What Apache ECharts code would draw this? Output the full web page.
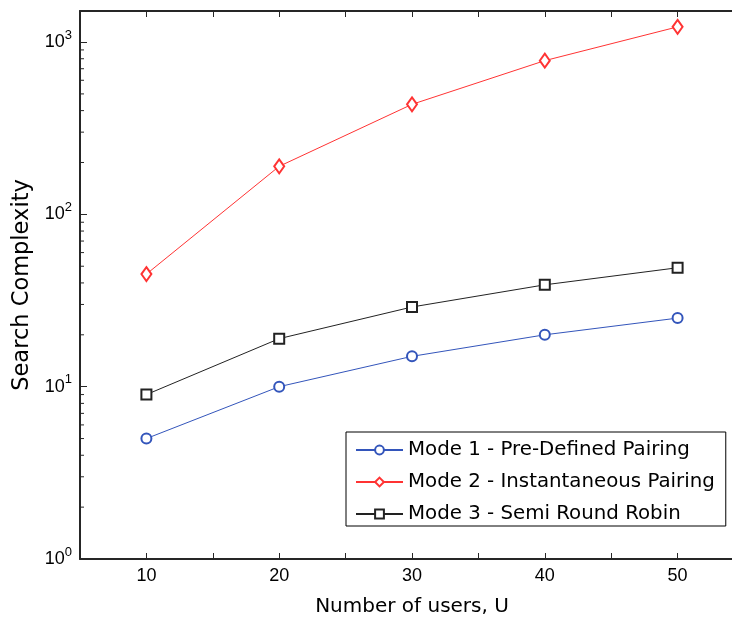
<!DOCTYPE html>
<html>
<head>
<meta charset="utf-8">
<script src="https://cdn.jsdelivr.net/npm/echarts@6/dist/echarts.min.js"></script>
<style>
  html, body { margin: 0; padding: 0; background: #fff; overflow: hidden; }
  #frame { width: 732px; height: 619px; overflow: hidden; position: relative; }
  #chart { width: 770px; height: 619px; }
</style>
</head>
<body>
<div id="frame"><div id="chart"></div></div>
<script>
// Number of users on the x axis
const users = [10, 20, 30, 40, 50];

// Search complexity for each pairing mode
const mode1 = [5, 10, 15, 20, 25];
const mode2 = [45, 190, 435, 780, 1225];
const mode3 = [9, 19, 29, 39, 49];

const seriesNames = [
  'Mode 1 - Pre-Defined Pairing',
  'Mode 2 - Instantaneous Pairing',
  'Mode 3 - Semi Round Robin'
];

// Logarithmic minor tick positions (2..9 within each decade)
const minorTicks = [];
for (let d = 1; d <= 1000; d *= 10) {
  for (let m = 2; m <= 9; m++) {
    if (m * d < 1500) minorTicks.push(m * d);
  }
}

const FONT = '"Liberation Sans", Arial, sans-serif';
const WIDE = '"DejaVu Sans", sans-serif';
const AXIS = '#262626';

const chart = echarts.init(document.getElementById('chart'), null, { renderer: 'canvas' });

function pairs(vals) {
  return users.map((u, i) => [u, vals[i]]);
}

chart.setOption({
  animation: false,
  backgroundColor: '#fff',
  grid: { left: 80, top: 11, width: 664, height: 548, containLabel: false, outerBoundsMode: 'none' },
  xAxis: [
    {
      type: 'value', min: 5, max: 55, interval: 5,
      name: 'Number of users, U', nameLocation: 'middle', nameGap: 38,
      nameTextStyle: { fontFamily: WIDE, fontSize: 20, color: '#000' },
      axisLine: { show: true, onZero: false, lineStyle: { color: AXIS, width: 2 } },
      axisTick: { show: true, inside: true, length: 6, lineStyle: { color: AXIS, width: 1 } },
      axisLabel: { fontFamily: FONT, fontSize: 18, color: '#000', margin: 8,
        formatter: v => (v % 10 === 0 && v >= 10 && v <= 50) ? String(v) : '' },
      splitLine: { show: false }
    },
    {
      type: 'value', min: 5, max: 55, interval: 5, position: 'top',
      axisLine: { show: true, onZero: false, lineStyle: { color: AXIS, width: 2 } },
      axisTick: { show: true, inside: true, length: 6, lineStyle: { color: AXIS, width: 1 } },
      axisLabel: { show: false },
      splitLine: { show: false }
    }
  ],
  yAxis: {
    type: 'log', logBase: 10, min: 1, max: 1514,
    name: 'Search Complexity', nameLocation: 'middle', nameGap: 45, nameRotate: 90,
    nameTextStyle: { fontFamily: WIDE, fontSize: 22.5, color: '#000' },
    axisLine: { show: true, onZero: false, lineStyle: { color: AXIS, width: 2 } },
    axisTick: { show: true, inside: true, length: 7, lineStyle: { color: AXIS, width: 1 } },
    axisLabel: {
      fontFamily: FONT, color: '#000', margin: 8, showMaxLabel: false,
      formatter: function (v) {
        const e = Math.log10(v);
        if (Math.abs(e - Math.round(e)) > 1e-6) return '';
        return '{b|10}{s|' + Math.round(e) + '}';
      },
      rich: {
        b: { fontFamily: FONT, fontSize: 18, color: '#000' },
        s: { fontFamily: FONT, fontSize: 13, color: '#000', padding: [0, 0, 14, 0] }
      }
    },
    splitLine: { show: false }
  },
  legend: {
    data: seriesNames,
    orient: 'vertical',
    left: 346, top: 432,
    padding: [7, 11, 1, 9],
    itemGap: 10,
    itemWidth: 47, itemHeight: 11,
    backgroundColor: '#fff',
    borderColor: '#000', borderWidth: 1, borderRadius: 0,
    textStyle: { fontFamily: WIDE, fontSize: 19.8, lineHeight: 22, color: '#000' }
  },
  series: [
    {
      name: seriesNames[0], type: 'line', data: pairs(mode1),
      symbol: 'emptyCircle', symbolSize: 10,
      lineStyle: { color: '#3355bb', width: 1 },
      itemStyle: { color: '#3355bb', borderWidth: 1 }
    },
    {
      name: seriesNames[1], type: 'line', data: pairs(mode2),
      symbol: 'emptyDiamond', symbolSize: [10, 14],
      lineStyle: { color: '#ff3333', width: 1 },
      itemStyle: { color: '#ff3333', borderWidth: 1 }
    },
    {
      name: seriesNames[2], type: 'line', data: pairs(mode3),
      symbol: 'emptyRect', symbolSize: 10,
      lineStyle: { color: '#222222', width: 1 },
      itemStyle: { color: '#222222', borderWidth: 1 }
    },
    {
      // minor ticks along the left log axis
      type: 'custom', silent: true, z: 1,
      data: minorTicks.map(v => [5, v]),
      renderItem: function (params, api) {
        const p = api.coord([api.value(0), api.value(1)]);
        return {
          type: 'line',
          shape: { x1: p[0], y1: p[1], x2: p[0] + 4, y2: p[1] },
          style: { stroke: AXIS, lineWidth: 1 }
        };
      }
    }
  ]
});
</script>
</body>
</html>
